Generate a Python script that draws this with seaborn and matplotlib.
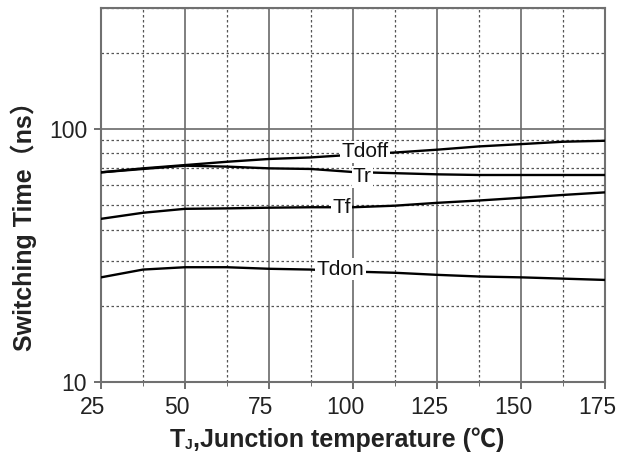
import numpy as np
import pandas as pd
import matplotlib
matplotlib.use("Agg")
import matplotlib.pyplot as plt
import matplotlib.ticker as mticker
import matplotlib.transforms as mtransforms
import seaborn as sns

# Data
temp = [25, 37.5, 50, 62.5, 75, 87.5, 100, 112.5, 125, 137.5, 150, 162.5, 175]
tdoff = [67.3, 69.8, 71.9, 74.1, 76.0, 77.1, 79.0, 80.6, 82.7, 85.2, 87.0, 88.9, 89.7]
tr = [67.3, 69.4, 71.5, 70.9, 69.8, 69.4, 67.5, 66.8, 66.1, 65.7, 65.7, 65.7, 65.7]
tf = [44.1, 46.6, 48.3, 48.5, 48.8, 49.0, 49.0, 49.7, 51.0, 52.1, 53.4, 54.8, 56.1]
tdon = [25.9, 27.8, 28.4, 28.4, 28.0, 27.8, 27.3, 27.0, 26.5, 26.1, 25.9, 25.6, 25.3]
curve_names = ["Tdoff", "Tr", "Tf", "Tdon"]
x_ticks = [25, 50, 75, 100, 125, 150, 175]
y_ticks = [10, 100]

sns.set_style("ticks")
plt.rcParams['font.family'] = ['Liberation Sans', 'Noto Sans CJK SC', 'DejaVu Sans']

fig = plt.figure(figsize=(6.2, 4.57), dpi=100)
ax = fig.add_axes([101 / 620, 1 - 382 / 457, 504 / 620, 374 / 457])

for vals in [tdoff, tr, tf, tdon]:
    sns.lineplot(x=temp, y=vals, color='black', linewidth=1.7, ax=ax, zorder=3)

ax.set_yscale('log')
ax.set_xlim(25, 175)
ax.set_ylim(10, 300)

ax.set_xticks(x_ticks)
ax.set_xticklabels([str(t) for t in x_ticks])
ax.xaxis.set_minor_locator(mticker.MultipleLocator(12.5))
ax.set_yticks(y_ticks)
ax.set_yticklabels([str(t) for t in y_ticks])
ax.yaxis.set_minor_locator(mticker.LogLocator(base=10, subs=np.arange(2, 10)))
ax.yaxis.set_minor_formatter(mticker.NullFormatter())

ax.grid(which='major', color='#6a6a6a', linestyle='-', linewidth=1.2)
ax.grid(which='minor', color='#555555', linestyle=(0, (2, 2)), linewidth=0.9)
ax.set_axisbelow(True)

for s in ax.spines.values():
    s.set_color('#707070')
    s.set_linewidth(1.5)

ax.tick_params(axis='both', which='major', direction='out', length=5, width=1.2,
               color='#555555', labelsize=16.5, labelcolor='#222222', pad=5)
ax.tick_params(axis='x', which='minor', direction='out', length=3, color='#555555')
ax.tick_params(axis='y', which='minor', length=0)

shift = mtransforms.ScaledTranslation(-0.08, 0, fig.dpi_scale_trans)
for lab in ax.get_xticklabels():
    lab.set_transform(lab.get_transform() + shift)

# curve labels
label_pos = {"Tdoff": (103.7, 81), "Tr": (102.8, 64.7), "Tf": (96.6, 48.9), "Tdon": (96.3, 27.9)}
for name in curve_names:
    lx, ly = label_pos[name]
    ax.text(lx, ly, name, fontsize=15, ha='center', va='center', color='#111111', zorder=4,
            bbox=dict(facecolor='white', edgecolor='none', pad=1))

# axis labels
ax.set_ylabel("Switching Time（ns）", fontsize=18, fontweight='bold', color='#222222')
ax.yaxis.set_label_coords(-0.127, 0.433)

t1 = fig.text(170 / 620, 10 / 457, "T", fontsize=18, fontweight='bold', color='#222222', va='baseline')
t2 = ax.annotate("J", xy=(1, 0), xycoords=t1, fontsize=10, fontweight='bold', color='#222222',
                 ha='left', va='bottom', annotation_clip=False)
ax.annotate(",Junction temperature (℃)", xy=(1, 0), xycoords=(t2, t1), fontsize=18,
            fontweight='bold', color='#222222', ha='left', va='bottom', annotation_clip=False)

fig.savefig("out.png", dpi=100)
